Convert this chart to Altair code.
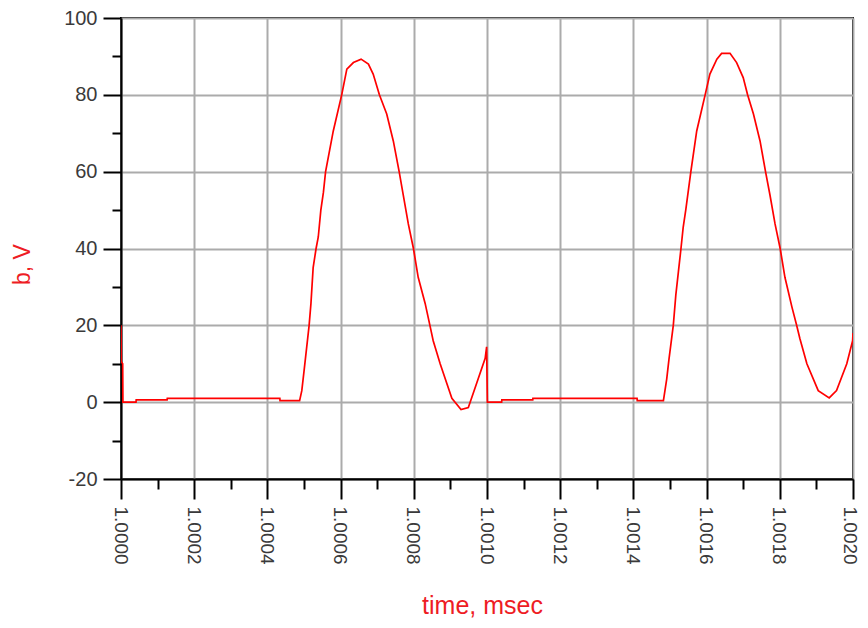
import altair as alt
import pandas as pd

# time in msec, voltage b in V
time_ms = [
    1.000000, 1.0000008, 1.0000046, 1.0000052, 1.000041, 1.0000415, 1.000126, 1.0001265,
    1.000434, 1.0004345, 1.000488, 1.000494, 1.000500, 1.000507, 1.000514, 1.000519,
    1.000525, 1.000533, 1.000539, 1.000546, 1.000553, 1.000559, 1.000580, 1.000603,
    1.000617, 1.000635, 1.000656, 1.000676, 1.000689, 1.000706, 1.000726, 1.000744,
    1.000760, 1.000771, 1.000785, 1.000799, 1.000812, 1.000831, 1.000844, 1.000853,
    1.000872, 1.000904, 1.000929, 1.000949, 1.000972, 1.000995, 1.000999, 1.001001,
    1.001040, 1.0010405, 1.001125, 1.0011255, 1.001410, 1.0014105, 1.001482, 1.001491,
    1.001497, 1.001505, 1.001509, 1.001516, 1.001523, 1.001530, 1.001536, 1.001543,
    1.001550, 1.001557, 1.001573, 1.001596, 1.001609, 1.001628, 1.001641, 1.001664,
    1.001682, 1.001700, 1.001712, 1.001728, 1.001746, 1.001761, 1.001773, 1.001787,
    1.001801, 1.001814, 1.001833, 1.001846, 1.001855, 1.001874, 1.001905, 1.001935,
    1.001955, 1.001983, 1.001999, 1.002000,
]
b_volts = [
    20.0, 10.5, 10.0, 0.0, 0.0, 0.6, 0.6, 1.0,
    1.0, 0.4, 0.4, 3.0, 8.0, 14.0, 20.0, 25.7,
    35.0, 40.0, 43.0, 50.0, 54.6, 60.0, 70.6, 80.0,
    86.7, 88.4, 89.3, 88.0, 85.4, 80.0, 75.0, 68.0,
    60.0, 54.0, 46.4, 40.0, 32.5, 25.7, 20.0, 16.0,
    10.0, 1.0, -1.9, -1.4, 5.0, 11.4, 14.4, 0.0,
    0.0, 0.6, 0.6, 1.0, 1.0, 0.4, 0.4, 6.0,
    11.0, 17.0, 20.0, 28.0, 34.0, 40.0, 45.5, 50.0,
    55.0, 60.0, 70.6, 80.0, 85.4, 89.3, 90.8, 90.8,
    88.4, 84.5, 80.0, 75.0, 68.0, 60.0, 54.0, 46.4,
    40.0, 32.5, 24.8, 20.0, 16.5, 10.0, 3.0, 1.1,
    3.0, 10.0, 16.0, 18.0,
]

x_ticks = [1.0 + i * 0.0001 for i in range(21)]
y_ticks = [-20, -10, 0, 10, 20, 30, 40, 50, 60, 70, 80, 90, 100]

df = pd.DataFrame({"t": time_ms, "b": b_volts})

TITLE_RED = "#ee1c24"
LABEL_COLOR = "#3a3a3a"
GRID = "#ababab"

x_major = "round(datum.value * 10000) % 2 === 0"
y_major = "datum.value % 20 === 0"

x_axis = alt.Axis(
    values=x_ticks,
    title="time, msec",
    titleColor=TITLE_RED,
    titleFont="Liberation Sans",
    titleFontSize=25,
    titleFontWeight="normal",
    titleX=361,
    titleY=126,
    titleAlign="center",
    titleBaseline="middle",
    labelExpr="round(datum.value * 10000) % 2 === 0 ? format(datum.value, '.4f') : ''",
    labelAngle=90,
    labelFont="Liberation Sans",
    labelFontSize=19,
    labelOffset={"condition": {"test": "datum.value > 1.00195", "value": -4}, "value": -1},
    labelColor=LABEL_COLOR,
    labelPadding=7,
    labelOverlap=False,
    labelFlush=False,
    labelBound=False,
    tickColor="black",
    tickWidth=2,
    tickSize={"condition": {"test": x_major, "value": 20}, "value": 10},
    domainColor="black",
    domainWidth=2,
    grid=True,
    gridColor=GRID,
    gridWidth=2,
    gridOpacity={"condition": {"test": x_major, "value": 1}, "value": 0},
)

y_axis = alt.Axis(
    values=y_ticks,
    title="b, V",
    titleColor=TITLE_RED,
    titleFont="Liberation Sans",
    titleFontSize=23,
    titleFontWeight="normal",
    titleAngle=-90,
    titleX=-99,
    titleY=246,
    titleAlign="center",
    titleBaseline="middle",
    labelExpr="datum.value % 20 === 0 ? ('' + datum.value) : ''",
    labelFont="Liberation Sans",
    labelFontSize=20,
    labelColor=LABEL_COLOR,
    labelPadding=6,
    labelOverlap=False,
    labelFlush=False,
    labelBound=False,
    tickColor="black",
    tickWidth=2,
    tickSize={"condition": {"test": y_major, "value": 18}, "value": 9},
    domainColor="black",
    domainWidth=2,
    grid=True,
    gridColor=GRID,
    gridWidth=2,
    gridOpacity={"condition": {"test": y_major, "value": 1}, "value": 0},
)

chart = (
    alt.Chart(df)
    .mark_line(color="#ff0000", strokeWidth=1.7, clip=True)
    .encode(
        x=alt.X("t:Q", scale=alt.Scale(domain=[1.0, 1.002], nice=False, zero=False), axis=x_axis),
        y=alt.Y("b:Q", scale=alt.Scale(domain=[-20, 100], nice=False, zero=False), axis=y_axis),
        order=alt.Order("t:Q"),
    )
    .properties(
        width=732,
        height=461,
        padding={"left": 113, "top": 10, "right": 7, "bottom": 141},
        autosize="none",
        background="white",
    )
    .configure_view(stroke="black", strokeWidth=2)
)

chart.save("out.html", embed_options={"renderer": "svg", "actions": False})
